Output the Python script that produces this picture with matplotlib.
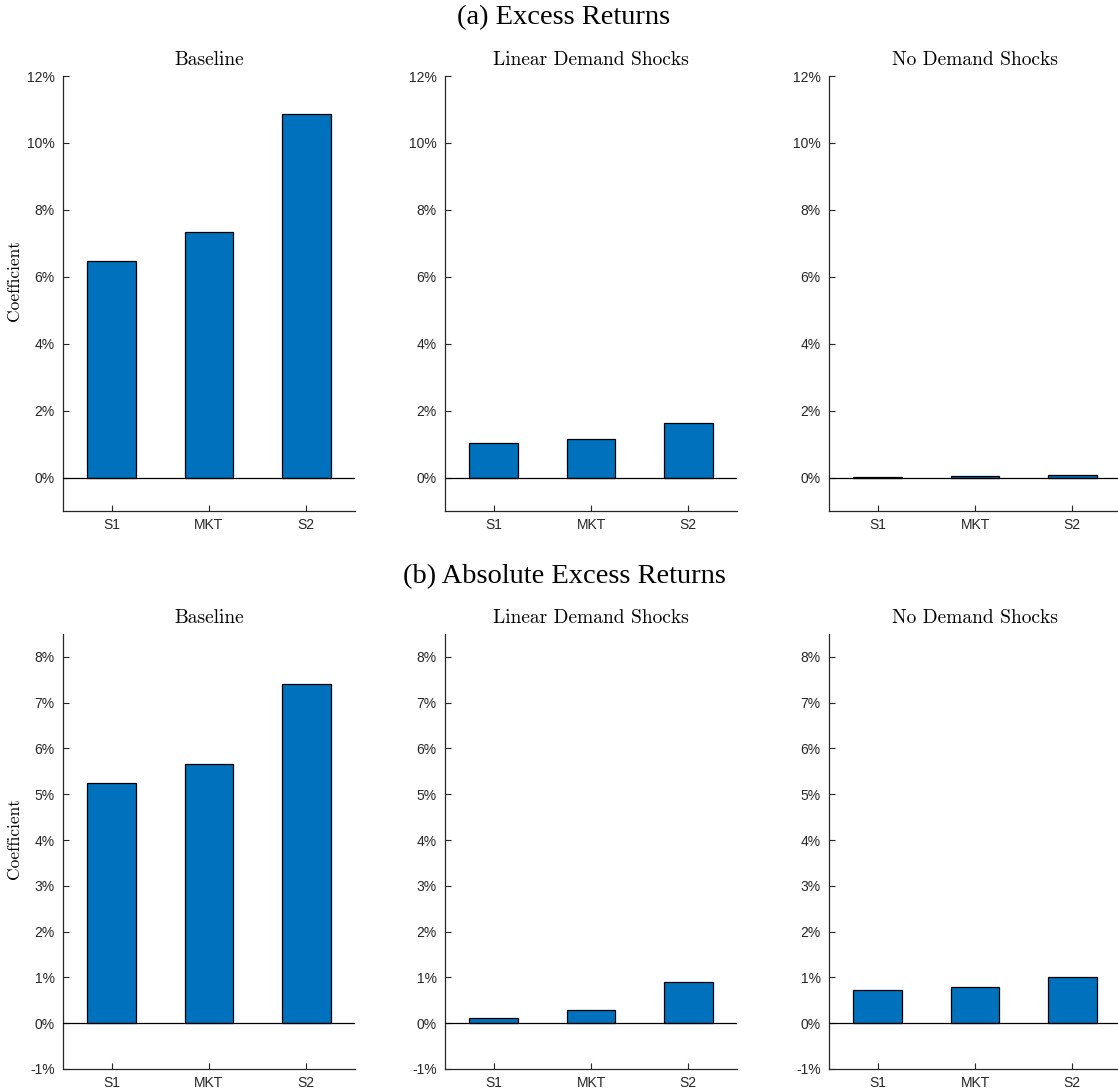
import numpy as np
import matplotlib
matplotlib.use("Agg")
import matplotlib.pyplot as plt
from matplotlib.ticker import FuncFormatter

# data (coefficients in %)
categories = ["S1", "MKT", "S2"]
panel_titles = ["Baseline", "Linear Demand Shocks", "No Demand Shocks"]

excess_baseline = [6.47, 7.35, 10.87]
excess_linear = [1.02, 1.14, 1.63]
excess_none = [0.03, 0.04, 0.08]

abs_baseline = [5.25, 5.66, 7.40]
abs_linear = [0.12, 0.28, 0.89]
abs_none = [0.73, 0.79, 1.02]

top_ticks = [0, 2, 4, 6, 8, 10, 12]
bottom_ticks = [-1, 0, 1, 2, 3, 4, 5, 6, 7, 8]

bar_color = "#0072BD"
axis_color = "#262626"

plt.rcParams["font.family"] = ["Liberation Sans", "DejaVu Sans"]

fig = plt.figure(figsize=(11.18, 10.91), dpi=100)

W, H = 1118.0, 1091.0
lefts = [63, 445, 829]
ax_w = 292
rows = [(76, 511), (634, 1069)]

pct = FuncFormatter(lambda v, p: "%d%%" % round(v))


def draw_panel(ax, values, title, ylim, yticks, ylabel):
    x = np.arange(1, len(categories) + 1)
    ax.bar(x, values, width=0.5, color=bar_color, edgecolor="black",
           linewidth=0.9, zorder=2)
    ax.axhline(0, color="black", linewidth=0.9, zorder=3)
    ax.set_xlim(0.5, 3.5)
    ax.set_ylim(*ylim)
    ax.set_xticks(x)
    ax.set_xticklabels(categories)
    ax.set_yticks(yticks)
    ax.yaxis.set_major_formatter(pct)
    ax.tick_params(direction="in", length=4, width=0.8, colors=axis_color,
                   labelsize=10, pad=6)
    ax.tick_params(axis="x", pad=5)
    for s in ["top", "right"]:
        ax.spines[s].set_visible(False)
    for s in ["left", "bottom"]:
        ax.spines[s].set_color(axis_color)
        ax.spines[s].set_linewidth(0.9)
    ax.set_title(title, fontfamily="cmr10", fontsize=14, pad=8)
    if ylabel:
        ax.set_ylabel("Coefficient", fontfamily="cmr10", fontsize=12.5)
        ax.yaxis.set_label_coords(-0.14, 0.53)


data_rows = [
    ([excess_baseline, excess_linear, excess_none], (-1, 12), top_ticks),
    ([abs_baseline, abs_linear, abs_none], (-1, 8.5), bottom_ticks),
]

for (top, bot), (vals, ylim, yticks) in zip(rows, data_rows):
    for i, left in enumerate(lefts):
        ax = fig.add_axes([left / W, 1 - bot / H, ax_w / W, (bot - top) / H])
        draw_panel(ax, vals[i], panel_titles[i], ylim, yticks, i == 0)

fig.text(564 / W, 1 - 18 / H, "(a) Excess Returns", ha="center", va="center",
         fontfamily="Liberation Serif", fontsize=20.5)
fig.text(564 / W, 1 - 577 / H, "(b) Absolute Excess Returns", ha="center",
         va="center", fontfamily="Liberation Serif", fontsize=20.5)

fig.savefig("out.png", dpi=100)
